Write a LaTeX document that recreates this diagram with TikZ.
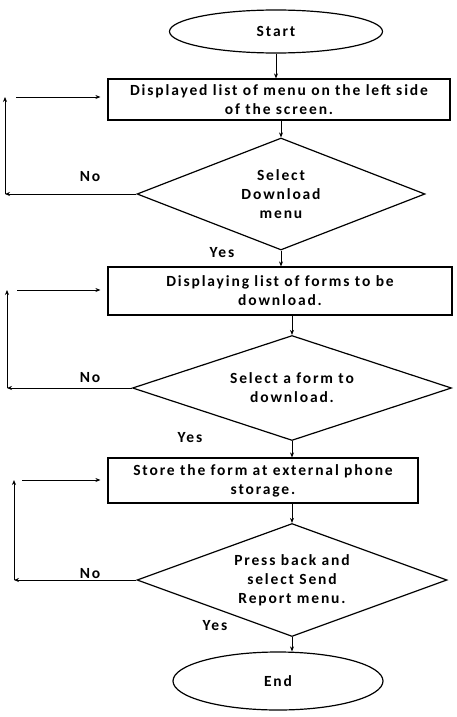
\documentclass[tikz,border=0pt]{standalone}
\usepackage{fontspec}
\setmainfont{Carlito}
\newfontfamily\cfont[LetterSpace=12]{Carlito}
\usetikzlibrary{shapes.geometric,arrows.meta}
\begin{document}
\begin{tikzpicture}[x=1pt,y=-1pt,
  txt/.style={font=\cfont\bfseries\fontsize{15.5}{19}\selectfont},
  term/.style={txt, draw, ellipse, line width=1.2pt, inner sep=0pt},
  proc/.style={txt, draw, rectangle, line width=1.2pt, align=center, inner sep=0pt},
  dec/.style={txt, draw, diamond, aspect=2.5, line width=1.2pt, align=center, inner sep=0pt},
  arr/.style={-{Stealth[length=5pt,width=4pt]}, line width=0.9pt},
  back/.style={-{Stealth[length=5pt,width=4pt]}, line width=0.7pt},
  lbl/.style={txt}]
\useasboundingbox (0,0) rectangle (457,717);

\node[term, minimum width=213pt, minimum height=43pt] (start) at (276,31.5) {Start};
\node[proc, minimum width=342pt, minimum height=41pt] (box1) at (279,99.5) {Displayed list of menu on the left side\\of the screen.};
\node[dec, minimum width=288pt, minimum height=112pt] (d1) at (281,194) {Select\\Download\\menu};
\node[proc, minimum width=344pt, minimum height=48pt] (box2) at (280,291) {Displaying list of forms to be\\download.};
\node[dec, minimum width=319pt, minimum height=105pt] (d2) at (292,388) {Select a form to\\download.};
\node[proc, minimum width=310pt, minimum height=45pt] (box3) at (263,480.5) {Store the form at external phone\\storage.};
\node[dec, minimum width=310pt, minimum height=113pt] (d3) at (292,580) {Press back and\\select Send\\Report menu.};
\node[term, minimum width=210pt, minimum height=58pt] (end) at (278,681) {End};

\draw[arr] (start.south) -- (start.south |- box1.north);
\draw[arr] (box1.south -| d1.north) -- (d1.north);
\draw[arr] (d1.south) -- (d1.south |- box2.north);
\draw[arr] (box2.south -| d2.north) -- (d2.north);
\draw[arr] (d2.south) -- (d2.south |- box3.north);
\draw[arr] (box3.south -| d3.north) -- (d3.north);
\draw[arr] (d3.south) -- (d3.south |- end.north);

\coordinate (a1) at (d1.west -| 5,0);
\coordinate (b1) at (5,97);
\coordinate (c1) at (16,97);
\draw[back] (d1.west) -- (a1);
\draw[back] (a1) -- (b1);
\draw[back, shorten >=7pt] (c1) -- (c1 -| box1.west);

\coordinate (a2) at (d2.west -| 7,0);
\coordinate (b2) at (7,290);
\coordinate (c2) at (17,290);
\draw[back] (d2.west) -- (a2);
\draw[back] (a2) -- (b2);
\draw[back, shorten >=7pt] (c2) -- (c2 -| box2.west);

\coordinate (a3) at (d3.west -| 14,0);
\coordinate (b3) at (14,480);
\coordinate (c3) at (22,480);
\draw[back] (d3.west) -- (a3);
\draw[back] (a3) -- (b3);
\draw[back, shorten >=7pt] (c3) -- (c3 -| box3.west);

\node[lbl] (no1) at (90,177) {No};
\node[lbl] (no2) at (90,378) {No};
\node[lbl] (no3) at (90,574) {No};
\node[lbl] (yes1) at (222,253) {Yes};
\node[lbl] (yes2) at (190,438) {Yes};
\node[lbl] (yes3) at (215,626) {Yes};
\end{tikzpicture}
\end{document}
